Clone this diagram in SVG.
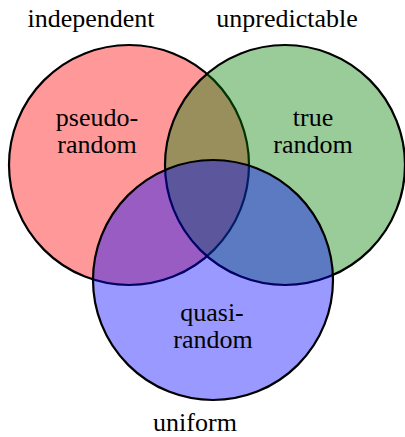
<svg xmlns="http://www.w3.org/2000/svg" width="405" height="437" viewBox="0 0 405 437">
<style>
  .set { stroke: #000; stroke-width: 2.2; }
  .lbl { font-family: "Liberation Serif", "Times New Roman", serif; font-size: 26px; fill: #000; text-anchor: middle; }
</style>
<rect x="0" y="0" width="405" height="437" fill="#fff"/>
<g id="pseudorandom">
  <circle class="set" cx="129" cy="165" r="120" fill="rgb(255,0,0)" fill-opacity="0.4"/>
</g>
<g id="truerandom">
  <circle class="set" cx="285" cy="165" r="120" fill="rgb(0,128,0)" fill-opacity="0.4"/>
</g>
<g id="quasirandom">
  <circle class="set" cx="213" cy="280" r="120" fill="rgb(0,0,255)" fill-opacity="0.4"/>
</g>
<g id="connectors"></g>
<g id="labels">
  <text class="lbl" x="91" y="27">independent</text>
  <text class="lbl" x="287" y="27">unpredictable</text>
  <text class="lbl" x="195" y="431">uniform</text>
  <text class="lbl" x="97" y="126">pseudo-</text>
  <text class="lbl" x="97" y="153">random</text>
  <text class="lbl" x="313" y="126">true</text>
  <text class="lbl" x="313" y="153">random</text>
  <text class="lbl" x="212" y="321">quasi-</text>
  <text class="lbl" x="213" y="348">random</text>
</g>
</svg>
